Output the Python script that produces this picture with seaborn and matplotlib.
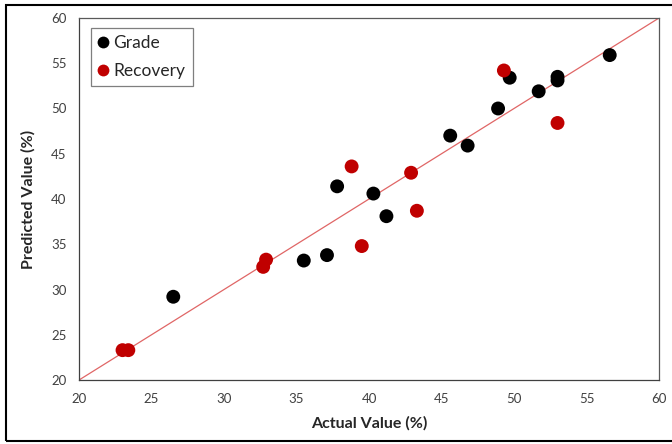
import numpy as np
import pandas as pd
import seaborn as sns
import matplotlib.pyplot as plt
from matplotlib.patches import Rectangle

# --- Data ---
grade_actual = [26.5, 35.5, 37.1, 37.8, 40.3, 41.2, 45.6, 46.8, 48.9, 49.7, 51.7, 53.0, 53.0, 56.6]
grade_pred = [29.2, 33.2, 33.8, 41.4, 40.6, 38.1, 47.0, 45.9, 50.0, 53.4, 51.9, 53.5, 53.1, 55.9]

recovery_actual = [23.0, 23.4, 32.7, 32.9, 38.8, 39.5, 42.9, 43.3, 49.3, 53.0]
recovery_pred = [23.3, 23.3, 32.5, 33.3, 43.6, 34.8, 42.9, 38.7, 54.2, 48.4]

axis_range = [20, 60]
ticks = [20, 25, 30, 35, 40, 45, 50, 55, 60]

df = pd.DataFrame({
    "actual": grade_actual + recovery_actual,
    "predicted": grade_pred + recovery_pred,
    "series": ["Grade"] * len(grade_actual) + ["Recovery"] * len(recovery_actual),
})

sns.set_style("white")
plt.rcParams["font.family"] = ["Lato", "DejaVu Sans"]

fig = plt.figure(figsize=(6.72, 4.44), dpi=100)
ax = fig.add_axes([0.1176, 0.1441, 0.8631, 0.8154])

# --- y = x reference line ---
ax.plot(axis_range, axis_range, color="#e06666", lw=0.9, zorder=1)

sns.scatterplot(
    data=df, x="actual", y="predicted", hue="series",
    palette={"Grade": "black", "Recovery": "#c00000"},
    s=100, edgecolor="none", ax=ax, zorder=3,
)

ax.set_xlim(axis_range)
ax.set_ylim(axis_range)
ax.set_xticks(ticks)
ax.set_yticks(ticks)
ax.tick_params(length=0, labelsize=9.5, labelcolor="#404040", pad=9)
ax.set_xlabel("Actual Value (%)", fontsize=11.5, fontweight="bold", labelpad=8)
ax.set_ylabel("Predicted Value (%)", fontsize=11.5, fontweight="bold", labelpad=11)

for sp in ax.spines.values():
    sp.set_color("#595959")
    sp.set_linewidth(0.9)
ax.spines["left"].set_color("#404040")
ax.spines["bottom"].set_color("#404040")

leg = ax.legend(
    loc="upper left", bbox_to_anchor=(0.0207, 0.9724), borderaxespad=0,
    fontsize=12.5, frameon=True, fancybox=False, edgecolor="#7f7f7f", framealpha=1,
    handletextpad=0.3, borderpad=0.4, labelspacing=0.7, handlelength=0.6,
    markerscale=0.85,
)
leg.get_frame().set_linewidth(0.9)

# --- outer frame around the figure ---
fig.patches.append(Rectangle((6 / 672, 3 / 444), 1.0, 436 / 444, transform=fig.transFigure,
                             fill=False, edgecolor="black", lw=1.5))

fig.savefig("out.png", dpi=100)
